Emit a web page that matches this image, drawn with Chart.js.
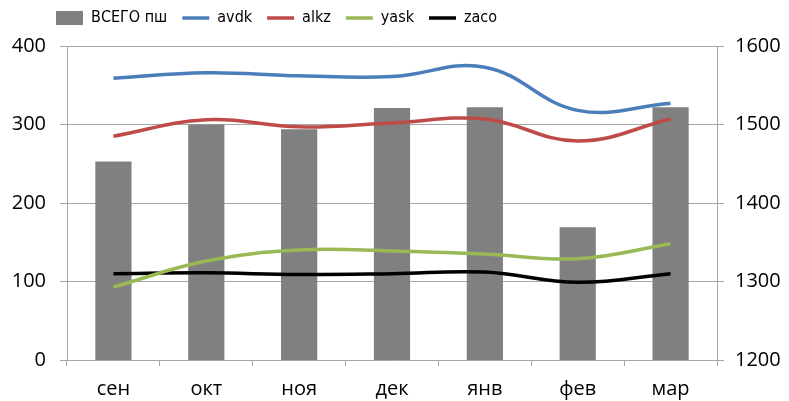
<!DOCTYPE html>
<html>
<head>
<meta charset="utf-8">
<script src="https://cdn.jsdelivr.net/npm/chart.js@4/dist/chart.umd.min.js"></script>
<style>
  html, body { margin: 0; padding: 0; background: #fff; }
  #wrap { width: 789px; height: 401px; }
</style>
</head>
<body>
<div id="wrap"><canvas id="chart"></canvas></div>
<script>
// months, sep..mar
var months = ["сен", "окт", "ноя", "дек", "янв", "фев", "мар"];
var total_psh = [1453, 1500, 1494, 1521, 1522, 1369, 1522];
var avdk = [359, 366, 362, 361, 373, 318, 327];
var alkz = [285, 306, 297, 302, 307, 279, 307];
var yask = [93, 126, 140, 139, 135, 129, 148];
var zaco = [110, 111, 109, 110, 112, 99, 110];

var grid_color = "#a6a6a6";
var tick_font = { family: "'Open Sans', 'DejaVu Sans'", size: 20 };

function line_ds(name, values, color) {
    return {
        type: "line",
        label: name,
        data: values,
        yAxisID: "y",
        borderColor: color,
        backgroundColor: color,
        borderWidth: 3.5,
        pointRadius: 0,
        pointStyle: "line",
        tension: 0.4,
        order: 1
    };
}

function plain_tick(value) {
    return String(value);
}

// move legend to where excel puts it
var legend_shift = {
    id: "legend_shift",
    beforeDraw: function(chart) {
        chart.legend.left = 41;
        chart.legend.top = -5;
    }
};

var ctx = document.getElementById("chart");
var myChart = new Chart(ctx, {
    type: "bar",
    data: {
        labels: months,
        datasets: [
            {
                label: "ВСЕГО пш",
                data: total_psh,
                yAxisID: "y1",
                backgroundColor: "#808080",
                borderWidth: 0,
                pointStyle: "rect",
                categoryPercentage: 1.0,
                barPercentage: 0.39,
                order: 2
            },
            line_ds("avdk", avdk, "#4a7ebb"),
            line_ds("alkz", alkz, "#be4b48"),
            line_ds("yask", yask, "#98b954"),
            line_ds("zaco", zaco, "#000000")
        ]
    },
    options: {
        responsive: true,
        maintainAspectRatio: false,
        animation: false,
        layout: { padding: { top: 5 } },
        plugins: {
            tooltip: { enabled: false },
            legend: {
                position: "top",
                align: "start",
                labels: {
                    usePointStyle: true,
                    pointStyleWidth: 27,
                    boxHeight: 14,
                    padding: 15,
                    color: "#000",
                    font: { family: "'DejaVu Sans Condensed', 'Noto Sans'", size: 16 },
                    sort: function(a, b) { return a.datasetIndex - b.datasetIndex; }
                }
            }
        },
        scales: {
            x: {
                grid: { drawOnChartArea: false, offset: true, tickLength: 6, color: grid_color },
                border: { color: grid_color },
                ticks: { color: "#000", font: tick_font, padding: 11 },
                afterFit: function(scale) { scale.height = 41; }
            },
            y: {
                position: "left",
                min: 0,
                max: 400,
                ticks: { stepSize: 100, color: "#000", font: tick_font, padding: 14, callback: plain_tick },
                grid: { color: grid_color, tickLength: 7 },
                border: { color: grid_color },
                afterFit: function(scale) { scale.width = 67; }
            },
            y1: {
                position: "right",
                min: 1200,
                max: 1600,
                ticks: { stepSize: 100, color: "#000", font: tick_font, padding: 11, callback: plain_tick },
                grid: { drawOnChartArea: false, color: grid_color, tickLength: 7 },
                border: { color: grid_color },
                afterFit: function(scale) { scale.width = 72; }
            }
        }
    },
    plugins: [legend_shift]
});
</script>
</body>
</html>
